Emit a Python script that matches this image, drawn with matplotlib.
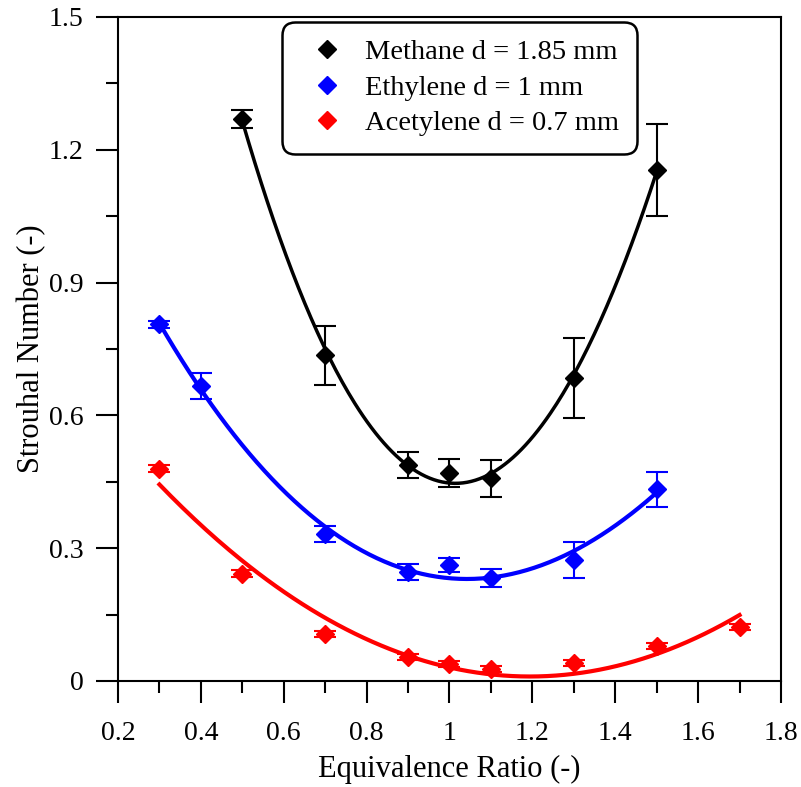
import numpy as np
import matplotlib.pyplot as plt
from matplotlib.lines import Line2D

plt.rcParams['font.family'] = ['Liberation Serif', 'DejaVu Serif']

# methane d = 1.85 mm
phi_ch4 = [0.5, 0.7, 0.9, 1.0, 1.1, 1.3, 1.5]
st_ch4 = [1.270, 0.736, 0.488, 0.470, 0.458, 0.684, 1.154]
err_ch4 = [0.020, 0.067, 0.030, 0.032, 0.042, 0.090, 0.104]

# ethylene d = 1 mm
phi_c2h4 = [0.3, 0.4, 0.7, 0.9, 1.0, 1.1, 1.3, 1.5]
st_c2h4 = [0.806, 0.666, 0.332, 0.246, 0.262, 0.233, 0.273, 0.433]
err_c2h4 = [0.008, 0.030, 0.018, 0.018, 0.016, 0.021, 0.040, 0.040]

# acetylene d = 0.7 mm
phi_c2h2 = [0.3, 0.5, 0.7, 0.9, 1.0, 1.1, 1.3, 1.5, 1.7]
st_c2h2 = [0.479, 0.242, 0.106, 0.054, 0.038, 0.027, 0.040, 0.079, 0.122]
err_c2h2 = [0.008, 0.008, 0.007, 0.007, 0.007, 0.007, 0.007, 0.007, 0.007]

labels = ['Methane d = 1.85 mm', 'Ethylene d = 1 mm', 'Acetylene d = 0.7 mm']
colors = ['black', 'blue', 'red']
fit_deg = [3, 3, 2]

fig = plt.figure(figsize=(8.01, 7.87), dpi=100)
ax = fig.add_axes([0.1473, 0.1347, 0.8277, 0.8437])

series = [(phi_ch4, st_ch4, err_ch4), (phi_c2h4, st_c2h4, err_c2h4), (phi_c2h2, st_c2h2, err_c2h2)]
handles = []
for i, (x, y, e) in enumerate(series):
    c = colors[i]
    # trend line (poly fit of the points)
    p = np.polyfit(x, y, fit_deg[i])
    xs = np.linspace(min(x), max(x), 200)
    ax.plot(xs, np.polyval(p, xs), color=c, lw=3 if i else 2.5, zorder=2)
    ax.errorbar(x, y, yerr=e, fmt='D', color=c, ms=9, capsize=8, elinewidth=1.5,
                capthick=1.5, zorder=3)
    handles.append(Line2D([], [], marker='D', color=c, ls='none', ms=9))

ax.set_xlim(0.2, 1.8)
ax.set_ylim(0, 1.5)
ax.set_xticks(np.arange(0.2, 1.81, 0.2))
ax.set_xticklabels(['0.2', '0.4', '0.6', '0.8', '1', '1.2', '1.4', '1.6', '1.8'])
ax.set_xticks(np.arange(0.3, 1.8, 0.2), minor=True)
ax.set_yticks([0, 0.3, 0.6, 0.9, 1.2, 1.5])
ax.set_yticklabels(['0', '0.3', '0.6', '0.9', '1.2', '1.5'])
ax.set_yticks([0.15, 0.45, 0.75, 1.05, 1.35], minor=True)
ax.tick_params(which='major', direction='out', length=16, width=1.5, labelsize=20)
ax.tick_params(axis='x', which='major', pad=13)
ax.tick_params(axis='y', which='major', pad=9)
ax.tick_params(which='minor', direction='out', length=8.5, width=1.5)
ax.tick_params(top=False, right=False, which='both')
for s in ax.spines.values():
    s.set_linewidth(1.5)

ax.set_xlabel('Equivalence Ratio (-)', fontsize=22, labelpad=6)
ax.set_ylabel('Strouhal Number (-)', fontsize=22, labelpad=2)

leg = ax.legend(handles, labels, loc='upper left', bbox_to_anchor=(0.243, 0.997),
                fontsize=20.5, handlelength=1.9, handletextpad=0.4, borderpad=0.62,
                labelspacing=0.33, borderaxespad=0.1, fancybox=True, framealpha=1,
                edgecolor='black')
leg.get_frame().set_linewidth(1.8)
leg.get_frame().set_boxstyle('round', pad=0, rounding_size=0.45)

fig.savefig('out.png', dpi=100)
